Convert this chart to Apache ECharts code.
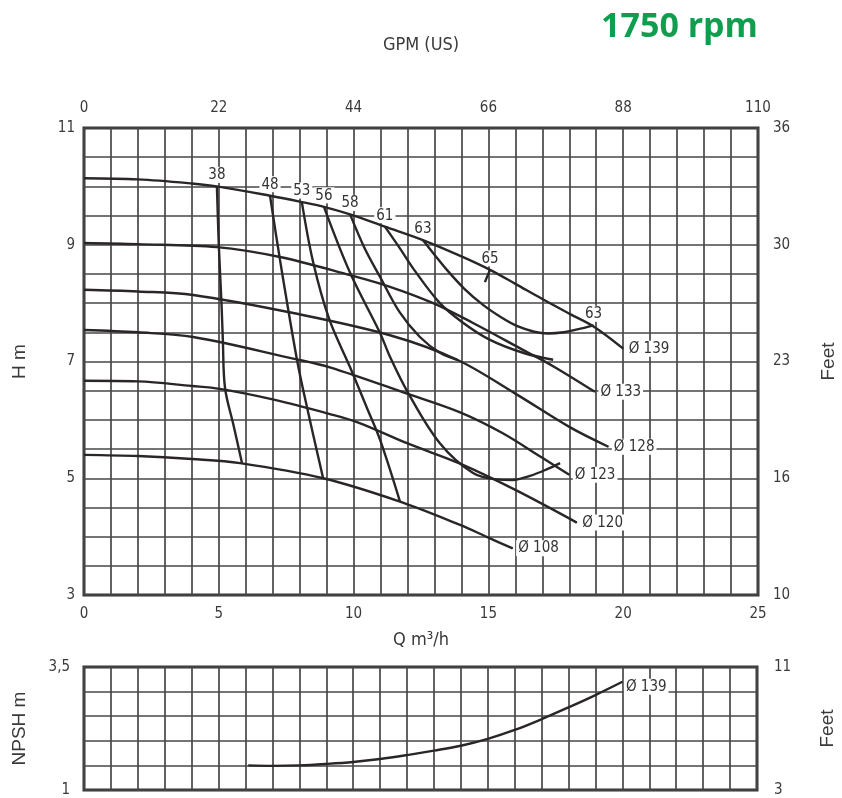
<!DOCTYPE html>
<html><head><meta charset="utf-8">
<script src="https://cdn.jsdelivr.net/npm/echarts@6/dist/echarts.min.js"></script>
<style>html,body{margin:0;padding:0;background:#fff}#c{width:842px;height:798px}</style>
</head><body><div id="c"></div>
<script>
// ---- tick labels ----
const flowTicks = [0, 5, 10, 15, 20, 25];
const gpmTicks = [0, 22, 44, 66, 88, 110];
const headTicks = [3, 5, 7, 9, 11];
const headFeetLabels = ['10', '16', '23', '30', '36'];
const npshTicks = [1, 3.5];
const npshLabels = ['1', '3,5'];
const npshFeetLabels = ['3', '11'];

// ---- impeller diameter curves: [Q m3/h, H m] ----
const d139 = [[0,10.14],[2,10.12],[4,10.05],[4.93,10.0],[6.9,9.84],[8.0,9.74],[8.9,9.65],[9.87,9.52],[11.16,9.31],[12.57,9.08],[14,8.8],[15.06,8.57],[16,8.33],[17,8.07],[18,7.82],[18.9,7.6],[20,7.22]];
const d133 = [[0,9.03],[2,9.01],[4.93,8.96],[7.27,8.79],[9.87,8.48],[11.35,8.28],[12.95,8.0],[14.43,7.66],[16.28,7.2],[17.4,6.92],[18.95,6.48]];
const d128 = [[0,8.23],[2,8.2],[4.05,8.14],[7.76,7.83],[11.35,7.45],[13.84,7.03],[16,6.45],[18.0,5.88],[19.45,5.54]];
const d123 = [[0,7.54],[2,7.5],[4.05,7.42],[7.76,7.05],[9.12,6.9],[11.98,6.45],[13.95,6.13],[15.5,5.78],[17.0,5.35],[18.0,5.06]];
const d120 = [[0,6.67],[2,6.66],[4,6.58],[5.04,6.53],[7,6.35],[9.12,6.1],[10.2,5.95],[11.98,5.6],[13.95,5.25],[16,4.8],[18.28,4.24]];
const d108 = [[0,5.4],[2,5.38],[4,5.33],[5.79,5.26],[8.87,5.0],[11.72,4.6],[13.95,4.2],[15.06,3.97],[15.9,3.8]];
const diameterCurves = [d139, d133, d128, d123, d120, d108];
const diameterNames = ['Ø 139', 'Ø 133', 'Ø 128', 'Ø 123', 'Ø 120', 'Ø 108'];

// ---- iso-efficiency curves (%) ----
const e38 = [[4.93,10.0],[5.0,9.0],[5.1,8.0],[5.15,7.37],[5.23,6.55],[5.55,5.9],[5.86,5.26]];
const e48 = [[6.9,9.84],[7.27,8.74],[7.9,7.03],[8.27,6.22],[8.87,5.0]];
const e53 = [[8.08,9.73],[8.5,8.7],[9.1,7.72],[9.87,6.9],[10.5,6.2],[10.98,5.66],[11.72,4.6]];
const e56 = [[8.9,9.65],[9.87,8.52],[10.98,7.49],[11.35,7.08],[12.0,6.48],[13.2,5.6],[14.43,5.09],[15.3,4.98],[15.9,4.97],[16.54,5.04],[17.2,5.16],[17.66,5.26]];
const e58 = [[9.87,9.52],[10.4,8.95],[10.98,8.45],[11.7,7.85],[12.46,7.42],[13.2,7.15],[13.84,7.03]];
const e61 = [[11.16,9.31],[11.7,8.95],[12.2,8.6],[13.2,8.0],[14.07,7.66],[15.06,7.37],[16.28,7.15],[17.4,7.03]];
const e63 = [[12.57,9.08],[13.0,8.83],[13.46,8.57],[14.1,8.25],[14.8,7.97],[15.5,7.75],[16.1,7.6],[16.7,7.51],[17.2,7.48],[17.8,7.5],[18.3,7.55],[18.9,7.62]];
const e65 = [[15.06,8.57],[14.95,8.45],[14.87,8.36]];
const effCurves = [e38, e48, e53, e56, e58, e61, e63, e65];
const effNames = ['38', '48', '53', '56', '58', '61', '63', '65'];
const effEndNames = [null, null, null, null, null, null, '63', null];

// ---- NPSH required, Ø139 ----
const npsh139 = [[6.1,1.5],[7,1.49],[8,1.5],[9,1.53],[10,1.57],[11,1.63],[12,1.71],[13,1.8],[14,1.9],[15,2.04],[16,2.22],[17,2.44],[18,2.68],[19,2.93],[20,3.2]];
const npshName = 'Ø 139';

const FONT = "'Liberation Sans Narrow','DejaVu Sans Condensed',Arial,sans-serif";
const FONT2 = "'Liberation Sans',Arial,sans-serif";
const TXT = '#3a3a3a';
const LINE = '#2a2627';
const GRIDC = '#474747';

const tagStyle = {
  show: true, color: '#333', fontFamily: FONT, fontSize: 15,
  backgroundColor: '#fff', padding: [1, 2, 0, 2]
};

function buildItems(data, firstLabel, lastLabel, firstPos, lastPos) {
  return data.map((p, i) => {
    const item = { value: p, symbol: 'none' };
    if (i === 0 && firstLabel) {
      item.symbol = 'circle'; item.symbolSize = 1;
      item.label = Object.assign({}, tagStyle, { position: firstPos, distance: 3, formatter: firstLabel });
    }
    if (i === data.length - 1 && lastLabel) {
      item.symbol = 'circle'; item.symbolSize = 1;
      item.label = Object.assign({}, tagStyle, lastPos, { formatter: lastLabel });
    }
    return item;
  });
}

const series = [];
effCurves.forEach((c, k) => {
  series.push({
    type: 'line', xAxisIndex: 0, yAxisIndex: 0, smooth: 0.35, silent: true,
    lineStyle: { color: LINE, width: 2.4 }, itemStyle: { color: LINE },
    data: buildItems(c, effNames[k], effEndNames[k], 'top', { position: 'top', distance: 3 }),
    z: 3
  });
});
diameterCurves.forEach((c, k) => {
  series.push({
    type: 'line', xAxisIndex: 0, yAxisIndex: 0, smooth: 0.35, silent: true,
    lineStyle: { color: LINE, width: 2.4 }, itemStyle: { color: LINE },
    data: buildItems(c, null, diameterNames[k], 'top', { position: 'right', distance: 3 }),
    z: 4
  });
});
series.push({
  type: 'line', xAxisIndex: 2, yAxisIndex: 2, smooth: 0.35, silent: true,
  lineStyle: { color: LINE, width: 2.4 }, itemStyle: { color: LINE },
  data: buildItems(npsh139, null, npshName, 'top', { position: 'right', distance: 1, offset: [0, 5] }),
  z: 4
});

const splitStyle = { show: true, lineStyle: { color: GRIDC, width: 1.7 } };
const lblBase = { color: TXT, fontFamily: FONT, fontSize: 15 };
const nameBase = { color: TXT, fontFamily: FONT2, fontSize: 19 };

const option = {
  animation: false,
  backgroundColor: '#fff',
  title: {
    text: '1750 rpm', right: 79, top: 5,
    textStyle: { color: '#0f9e4e', fontSize: 34, fontWeight: 'bold', fontFamily: "'Open Sans',sans-serif" }
  },
  grid: [
    { left: 84, top: 128, right: 84, bottom: 203, show: true, borderColor: '#333', borderWidth: 3, containLabel: false, outerBoundsMode: 'none' },
    { left: 84, top: 667, right: 85, bottom: 8, show: true, borderColor: '#333', borderWidth: 3, containLabel: false, outerBoundsMode: 'none' }
  ],
  xAxis: [
    { gridIndex: 0, type: 'value', position: 'bottom', min: 0, max: 25, interval: 1,
      axisLine: { show: false }, axisTick: { show: false }, splitLine: splitStyle,
      axisLabel: Object.assign({}, lblBase, { margin: 12, formatter: v => flowTicks.includes(v) ? String(v) : '' }),
      name: 'Q m³/h', nameLocation: 'middle', nameGap: 36, nameTextStyle: Object.assign({}, lblBase, { fontSize: 18 }) },
    { gridIndex: 0, type: 'value', position: 'top', min: 0, max: 110, interval: 22,
      axisLine: { show: false }, axisTick: { show: false }, splitLine: { show: false },
      axisLabel: Object.assign({}, lblBase, { margin: 12, formatter: v => gpmTicks.includes(v) ? String(v) : '' }),
      name: 'GPM (US)', nameLocation: 'middle', nameGap: 74, nameTextStyle: Object.assign({}, lblBase, { fontSize: 18 }) },
    { gridIndex: 1, type: 'value', position: 'bottom', min: 0, max: 25, interval: 1,
      axisLine: { show: false }, axisTick: { show: false }, splitLine: splitStyle,
      axisLabel: { show: false } }
  ],
  yAxis: [
    { gridIndex: 0, type: 'value', position: 'left', min: 3, max: 11, interval: 0.5,
      axisLine: { show: false }, axisTick: { show: false }, splitLine: splitStyle,
      axisLabel: Object.assign({}, lblBase, { margin: 9, formatter: v => headTicks.includes(v) ? String(v) : '' }),
      name: 'H m', nameLocation: 'middle', nameGap: 55, nameRotate: 90, nameTextStyle: nameBase },
    { gridIndex: 0, type: 'value', position: 'right', min: 3, max: 11, interval: 2,
      axisLine: { show: false }, axisTick: { show: false }, splitLine: { show: false },
      axisLabel: Object.assign({}, lblBase, { margin: 15, formatter: v => { const i = headTicks.indexOf(v); return i >= 0 ? headFeetLabels[i] : ''; } }),
      name: 'Feet', nameLocation: 'middle', nameGap: 61, nameRotate: 90, nameTextStyle: nameBase },
    { gridIndex: 1, type: 'value', position: 'left', min: 1, max: 3.5, interval: 0.5,
      axisLine: { show: false }, axisTick: { show: false }, splitLine: splitStyle,
      axisLabel: Object.assign({}, lblBase, { margin: 14, formatter: v => { const i = npshTicks.indexOf(v); return i >= 0 ? npshLabels[i] : ''; } }),
      name: 'NPSH m', nameLocation: 'middle', nameGap: 55, nameRotate: 90, nameTextStyle: nameBase },
    { gridIndex: 1, type: 'value', position: 'right', min: 1, max: 3.5, interval: 2.5,
      axisLine: { show: false }, axisTick: { show: false }, splitLine: { show: false },
      axisLabel: Object.assign({}, lblBase, { margin: 17, formatter: v => { const i = npshTicks.indexOf(v); return i >= 0 ? npshFeetLabels[i] : ''; } }),
      name: 'Feet', nameLocation: 'middle', nameGap: 61, nameRotate: 90, nameTextStyle: nameBase }
  ],
  series: series
};

const chart = echarts.init(document.getElementById('c'), null, { renderer: 'canvas' });
chart.setOption(option);
</script>
</body></html>
